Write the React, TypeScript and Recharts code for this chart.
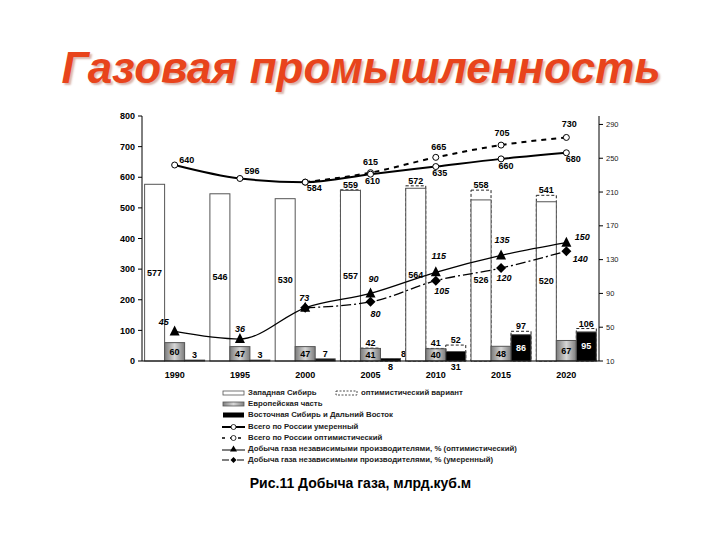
import React from 'react';
import { ComposedChart, Bar, Line, XAxis, YAxis } from 'recharts';

// Рис.11 Добыча газа, млрд.куб.м
const years = ['1990', '1995', '2000', '2005', '2010', '2015', '2020'];
const westModerate = [577, 546, 530, 557, 564, 526, 520];
const westOptimistic = [null, null, null, 559, 572, 558, 541];
const europeModerate = [60, 47, 47, 41, 40, 48, 67];
const europeOptimistic = [null, null, null, 42, 41, null, null];
const eastModerate = [3, 3, 7, 8, 31, 86, 95];
const eastOptimistic = [null, null, null, 8, 52, 97, 106];
const russiaModerate = [640, 596, 584, 610, 635, 660, 680];
const russiaOptimistic = [null, null, 584, 615, 665, 705, 730];
const independentOptimistic = [45, 36, 73, 90, 115, 135, 150];
const independentModerate = [null, null, 73, 80, 105, 120, 140];

const leftTicks = [0, 100, 200, 300, 400, 500, 600, 700, 800];
const rightTicks = [10, 50, 90, 130, 170, 210, 250, 290];

const FONT = '"Liberation Sans", Arial, sans-serif';

const COLORS = {
  black: '#000000',
  dark: '#222222',
  outline: '#555555',
  title: '#e8441c',
};

// label placement (style only)
type Place = 'center' | 'top' | 'below' | 'topRight' | null;
const westModPlace: Place[] = ['center', 'center', 'center', 'center', 'center', 'center', 'center'];
const westOptPlace: Place[] = [null, null, null, 'top', 'top', 'top', 'top'];
const europeModPlace: Place[] = ['center', 'center', 'center', 'center', 'center', 'center', 'center'];
const europeOptPlace: Place[] = [null, null, null, 'top', 'top', null, null];
const eastModPlace: Place[] = ['top', 'top', 'top', 'below', 'below', 'center', 'center'];
const eastOptPlace: Place[] = [null, null, null, 'topRight', 'top', 'top', 'top'];

const russiaModOffsets = [[12, -5], [12, -7], [9, 6], [2, 7], [4, 6], [5, 7], [7, 6]];
const russiaOptOffsets = [null, null, null, [0, -11], [3, -10], [1, -12], [3, -13]];
const indepOptOffsets = [[-11, -9], [0, -10], [-1, -10], [3, -14], [3, -16], [1, -15], [16, -6]];
const indepModOffsets = [null, null, null, [5, 12], [6, 10], [3, 10], [14, 8]];

const chartData = years.map((year, i) => ({
  year,
  westModerate: westModerate[i],
  westOptimistic: westOptimistic[i],
  europeModerate: europeModerate[i],
  europeOptimistic: europeOptimistic[i],
  eastModerate: eastModerate[i],
  eastOptimistic: eastOptimistic[i],
  russiaModerate: russiaModerate[i],
  russiaOptimistic: russiaOptimistic[i],
  independentOptimistic: independentOptimistic[i],
  independentModerate: independentModerate[i],
}));

const valueText = (x: number, y: number, v: number, color = COLORS.black, italic = false) => (
  <text
    x={x}
    y={y}
    textAnchor="middle"
    dominantBaseline="central"
    fontFamily={FONT}
    fontSize={9}
    fontWeight="bold"
    fontStyle={italic ? 'italic' : 'normal'}
    fill={color}
  >
    {v}
  </text>
);

const barShape = (
  values: (number | null)[],
  places: Place[],
  fill: string,
  dashed: boolean,
  centerColor = COLORS.black
) => (props: any) => {
  const { x, y, width, height, payload } = props;
  const i = years.indexOf(payload?.year);
  const v = values[i];
  if (v == null || x == null || y == null || !isFinite(y)) return <g />;
  const place = places[i];
  const cx = x + width / 2;
  let label = null;
  if (place === 'center') label = valueText(cx, y + height / 2, v, centerColor);
  if (place === 'top') label = valueText(cx, y - 5, v);
  if (place === 'below') label = valueText(cx, y + height + 6, v);
  if (place === 'topRight') label = valueText(x + width + 3, y - 5, v);
  return (
    <g>
      <rect
        x={x}
        y={y}
        width={width}
        height={height}
        fill={dashed ? 'none' : fill}
        stroke={dashed ? COLORS.dark : COLORS.outline}
        strokeWidth={1}
        strokeDasharray={dashed ? '3 2' : undefined}
      />
      {label}
    </g>
  );
};

type Marker = 'circle' | 'triangle' | 'diamond';

const markerShape = (marker: Marker, cx: number, cy: number) => {
  if (marker === 'circle') return <circle cx={cx} cy={cy} r={3} fill="#fff" stroke={COLORS.black} strokeWidth={1} />;
  if (marker === 'triangle')
    return <polygon points={`${cx},${cy - 6} ${cx - 5},${cy + 4} ${cx + 5},${cy + 4}`} fill={COLORS.black} />;
  return <polygon points={`${cx},${cy - 5} ${cx + 5},${cy} ${cx},${cy + 5} ${cx - 5},${cy}`} fill={COLORS.black} />;
};

const dotShape = (values: (number | null)[], offsets: (number[] | null)[], marker: Marker, italic: boolean) => (props: any) => {
  const { cx, cy, payload } = props;
  const i = years.indexOf(payload?.year);
  const v = values[i];
  if (v == null || cx == null || cy == null) return <g key={`e${i}`} />;
  const o = offsets[i];
  return (
    <g key={`d${i}`}>
      {markerShape(marker, cx, cy)}
      {o ? valueText(cx + o[0], cy + o[1], v, COLORS.black, italic) : null}
    </g>
  );
};

const LegendIcon: React.FC<{ kind: string }> = ({ kind }) => (
  <svg width={24} height={10} style={{ verticalAlign: 'middle', marginRight: 2 }}>
    {kind === 'west' && <rect x={1} y={3} width={21} height={4} fill="#fff" stroke={COLORS.outline} strokeWidth={0.8} />}
    {kind === 'opt' && <rect x={1} y={3} width={21} height={4} fill="none" stroke={COLORS.dark} strokeWidth={0.8} strokeDasharray="2 1.5" />}
    {kind === 'europe' && <rect x={1} y={3} width={21} height={4} fill="url(#europeFillLegend)" stroke={COLORS.outline} strokeWidth={0.8} />}
    {kind === 'east' && <rect x={1} y={2.5} width={21} height={5} fill={COLORS.black} />}
    {kind === 'russiaMod' && (
      <>
        <line x1={0} y1={5} x2={23} y2={5} stroke={COLORS.black} strokeWidth={2} />
        <circle cx={11.5} cy={5} r={2.5} fill="#fff" stroke={COLORS.black} strokeWidth={0.8} />
      </>
    )}
    {kind === 'russiaOpt' && (
      <>
        <line x1={0} y1={5} x2={23} y2={5} stroke={COLORS.black} strokeWidth={1.5} strokeDasharray="3 5" />
        <circle cx={11.5} cy={5} r={2.5} fill="#fff" stroke={COLORS.black} strokeWidth={0.8} />
      </>
    )}
    {kind === 'indepOpt' && (
      <>
        <line x1={0} y1={6} x2={23} y2={6} stroke={COLORS.black} strokeWidth={1} />
        <polygon points="11.5,1.5 8,7.5 15,7.5" fill={COLORS.black} />
      </>
    )}
    {kind === 'indepMod' && (
      <>
        <line x1={0} y1={5} x2={23} y2={5} stroke={COLORS.black} strokeWidth={1.2} strokeDasharray="7 3 2 3" />
        <polygon points="11.5,2 14.5,5 11.5,8 8.5,5" fill={COLORS.black} />
      </>
    )}
  </svg>
);

const legendRows = [
  { kind: 'west', text: 'Западная Сибирь' },
  { kind: 'europe', text: 'Европейская часть' },
  { kind: 'east', text: 'Восточная Сибирь и Дальний Восток' },
  { kind: 'russiaMod', text: 'Всего по России умеренный' },
  { kind: 'russiaOpt', text: 'Всего по России оптимистический' },
  { kind: 'indepOpt', text: 'Добыча газа независимыми производителями, % (оптимистический)' },
  { kind: 'indepMod', text: 'Добыча газа независимыми производителями, % (умеренный)' },
];

const legendTextStyle: React.CSSProperties = {
  fontFamily: FONT,
  fontSize: 7.8,
  fontWeight: 'bold',
  color: '#222',
  whiteSpace: 'nowrap',
};

const App: React.FC = () => {
  return (
    <div
      style={{
        position: 'absolute',
        left: 0,
        top: 0,
        width: 720,
        height: 540,
        backgroundColor: '#fff',
        fontFamily: FONT,
        overflow: 'hidden',
      }}
    >
      <svg width={0} height={0} style={{ position: 'absolute' }}>
        <defs>
          <linearGradient id="europeFillLegend" x1="0" y1="0" x2="1" y2="0">
            <stop offset="0%" stopColor="#808080" />
            <stop offset="50%" stopColor="#d8d8d8" />
            <stop offset="100%" stopColor="#808080" />
          </linearGradient>
        </defs>
      </svg>

      <div
        style={{
          position: 'absolute',
          left: 0,
          top: 46,
          width: 722,
          textAlign: 'center',
          fontSize: 44,
          lineHeight: '44px',
          fontWeight: 'bold',
          fontStyle: 'italic',
          color: COLORS.title,
          textShadow: '2px 2px 2px rgba(170, 90, 70, 0.45)',
          whiteSpace: 'nowrap',
        }}
      >
        Газовая промышленность
      </div>

      <div style={{ position: 'absolute', left: 0, top: 0 }}>
        <ComposedChart
          width={720}
          height={540}
          data={chartData}
          margin={{ top: 116, right: 81, bottom: 149, left: 102 }}
          barCategoryGap="4%"
          barGap={0}
        >
          <defs>
            <linearGradient id="europeFill" x1="0" y1="0" x2="1" y2="0">
              <stop offset="0%" stopColor="#7c7c7c" />
              <stop offset="50%" stopColor="#d6d6d6" />
              <stop offset="100%" stopColor="#7c7c7c" />
            </linearGradient>
          </defs>
          <XAxis
            xAxisId="m"
            dataKey="year"
            tickLine={false}
            tickMargin={5}
            height={30}
            axisLine={{ stroke: COLORS.black }}
            tick={{ fontSize: 9, fontWeight: 'bold', fill: COLORS.black, fontFamily: FONT }}
          />
          <XAxis xAxisId="o" dataKey="year" hide />
          <YAxis
            yAxisId="l"
            domain={[0, 800]}
            ticks={leftTicks}
            width={40}
            tickSize={4}
            tickMargin={3}
            axisLine={{ stroke: COLORS.black }}
            tickLine={{ stroke: COLORS.black }}
            tick={{ fontSize: 9, fontWeight: 'bold', fill: COLORS.black, fontFamily: FONT }}
          />
          <YAxis
            yAxisId="r"
            orientation="right"
            domain={[10, 300]}
            ticks={rightTicks}
            width={40}
            tickSize={4}
            tickMargin={3}
            axisLine={{ stroke: COLORS.black }}
            tickLine={{ stroke: COLORS.black }}
            tick={{ fontSize: 7.5, fill: '#222', fontFamily: FONT }}
          />

          {/* optimistic variant: dashed outlines drawn first, moderate bars on top */}
          <Bar
            xAxisId="o"
            yAxisId="l"
            dataKey="westOptimistic"
            name="оптимистический вариант"
            fill="none"
            isAnimationActive={false}
            shape={barShape(westOptimistic, westOptPlace, 'none', true)}
          />
          <Bar
            xAxisId="o"
            yAxisId="l"
            dataKey="europeOptimistic"
            fill="none"
            isAnimationActive={false}
            shape={barShape(europeOptimistic, europeOptPlace, 'none', true)}
          />
          <Bar
            xAxisId="o"
            yAxisId="l"
            dataKey="eastOptimistic"
            fill="none"
            isAnimationActive={false}
            shape={barShape(eastOptimistic, eastOptPlace, 'none', true)}
          />

          <Bar
            xAxisId="m"
            yAxisId="l"
            dataKey="westModerate"
            name="Западная Сибирь"
            fill="#fff"
            isAnimationActive={false}
            shape={barShape(westModerate, westModPlace, '#ffffff', false)}
          />
          <Bar
            xAxisId="m"
            yAxisId="l"
            dataKey="europeModerate"
            name="Европейская часть"
            fill="url(#europeFill)"
            isAnimationActive={false}
            shape={barShape(europeModerate, europeModPlace, 'url(#europeFill)', false)}
          />
          <Bar
            xAxisId="m"
            yAxisId="l"
            dataKey="eastModerate"
            name="Восточная Сибирь и Дальний Восток"
            fill={COLORS.black}
            isAnimationActive={false}
            shape={barShape(eastModerate, eastModPlace, COLORS.black, false, '#ffffff')}
          />

          <Line
            xAxisId="m"
            yAxisId="l"
            type="monotone"
            dataKey="russiaOptimistic"
            stroke={COLORS.black}
            strokeWidth={2}
            strokeDasharray="5 5"
            isAnimationActive={false}
            dot={dotShape(russiaOptimistic, russiaOptOffsets, 'circle', false)}
          />
          <Line
            xAxisId="m"
            yAxisId="l"
            type="monotone"
            dataKey="russiaModerate"
            stroke={COLORS.black}
            strokeWidth={2}
            isAnimationActive={false}
            dot={dotShape(russiaModerate, russiaModOffsets, 'circle', false)}
          />
          <Line
            xAxisId="m"
            yAxisId="r"
            type="monotone"
            dataKey="independentModerate"
            stroke={COLORS.black}
            strokeWidth={1.3}
            strokeDasharray="10 3 2 3"
            isAnimationActive={false}
            dot={dotShape(independentModerate, indepModOffsets, 'diamond', true)}
          />
          <Line
            xAxisId="m"
            yAxisId="r"
            type="monotone"
            dataKey="independentOptimistic"
            stroke={COLORS.black}
            strokeWidth={1.3}
            isAnimationActive={false}
            dot={dotShape(independentOptimistic, indepOptOffsets, 'triangle', true)}
          />
        </ComposedChart>
      </div>

      <div style={{ position: 'absolute', left: 222, top: 387 }}>
        {legendRows.map((row) => (
          <div key={row.kind} style={{ height: 11.2, lineHeight: '11.2px', ...legendTextStyle }}>
            <LegendIcon kind={row.kind} />
            <span style={{ verticalAlign: 'middle' }}>{row.text}</span>
          </div>
        ))}
      </div>
      <div style={{ position: 'absolute', left: 335, top: 387, height: 11.2, lineHeight: '11.2px', ...legendTextStyle }}>
        <LegendIcon kind="opt" />
        <span style={{ verticalAlign: 'middle' }}>оптимистический вариант</span>
      </div>

      <div
        style={{
          position: 'absolute',
          left: 0,
          top: 476,
          width: 721,
          textAlign: 'center',
          fontSize: 14,
          lineHeight: '14px',
          fontWeight: 'bold',
          color: COLORS.black,
        }}
      >
        Рис.11 Добыча газа, млрд.куб.м
      </div>
    </div>
  );
};

export default App;
